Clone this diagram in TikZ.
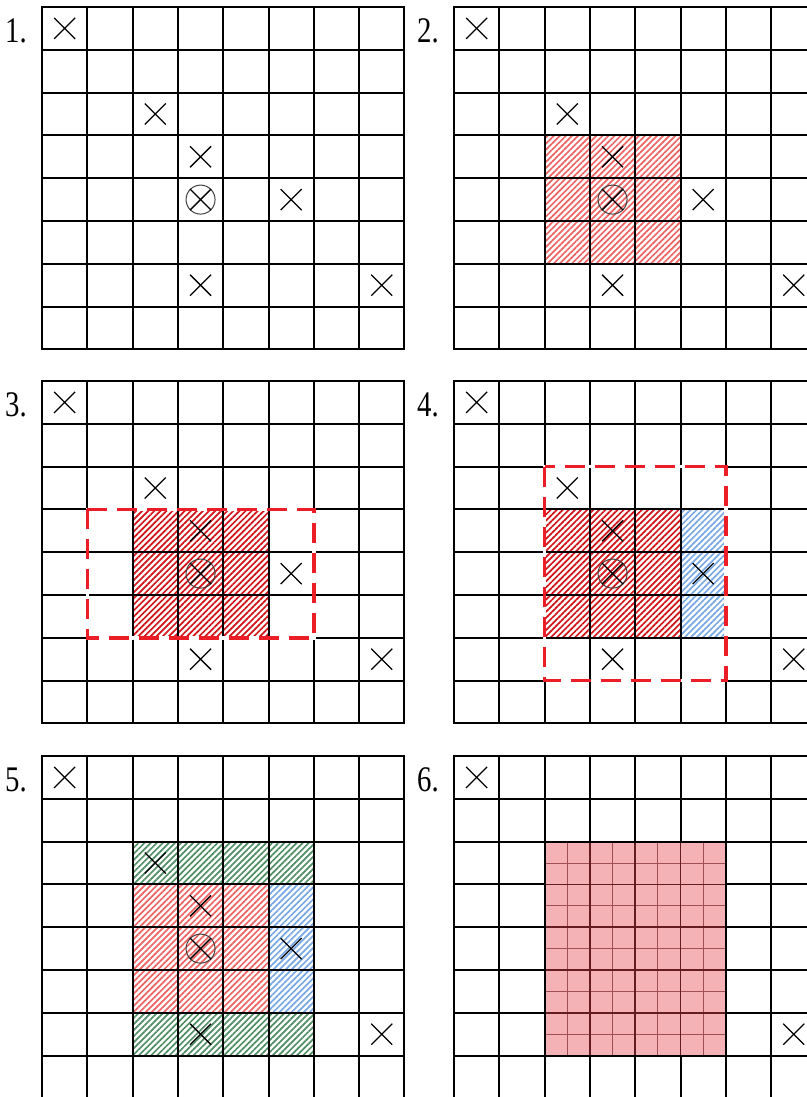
\documentclass[tikz,border=0pt]{standalone}
\usepackage{fontspec}
\setmainfont{Liberation Serif}
\usepackage{xcolor}
\usetikzlibrary{patterns.meta,shapes.misc}

\definecolor{lightred}{RGB}{238,100,100}
\definecolor{darkred}{RGB}{210,20,25}
\definecolor{hatchblue}{RGB}{120,168,228}
\definecolor{hatchgreen}{RGB}{80,142,100}
\definecolor{framered}{RGB}{235,30,40}
\definecolor{cellpink}{RGB}{245,178,182}
\definecolor{subline}{RGB}{160,80,85}
\definecolor{mainline}{RGB}{100,28,32}

\newcommand{\drawgrid}{%
  \foreach \i in {0,...,8} {
    \draw[gridline] (\i,0) -- (\i,8);
    \draw[gridline] (0,\i) -- (8,\i);
  }}
\newcommand{\placecrosses}[1]{%
  \foreach \cx/\cy/\k in {0/0/a,2/2/b,3/3/c,5/4/d,3/6/e,7/6/f}
    \node[hit] (#1-\k) at (\cx+0.5,\cy+0.5) {};
  \node[seed] (#1-o) at (3.5,4.5) {};
  \node[hit] (#1-ox) at (3.5,4.5) {};}

\begin{document}
\begin{tikzpicture}[x=0.5pt,y=-0.5pt,
  gridline/.style={line width=1pt,line cap=rect},
  hit/.style={cross out,draw,line width=0.65pt,minimum size=10.5pt,
              inner sep=0pt,outer sep=0pt},
  seed/.style={circle,draw=black!75,line width=0.5pt,minimum size=14.5pt,
               inner sep=0pt},
  panel/.style={x=22.65pt,y=-21.4pt},
  tag/.style={font=\fontsize{18}{18}\selectfont,xscale=0.8,
              anchor=east,inner sep=0pt},
  hatch/.style={pattern={Lines[angle=45,distance=2.15pt,line width=0.85pt]},
                pattern color=#1},
  frame/.style={draw=framered,line width=1.75pt,dash pattern=on 10pt off 5pt}
]
  \useasboundingbox (0,0) rectangle (807,1097);
  \clip (0,0) rectangle (807,1097);

  % 1. the grid with the hits
  \begin{scope}[shift={(42,7)},panel]
    \drawgrid
    \placecrosses{p1}
    \node[tag] (lbl1) at (-0.33,0.56) {1.};
  \end{scope}

  % 2. first neighbourhood
  \begin{scope}[shift={(454,7)},panel]
    \fill[hatch=lightred] (2,3) rectangle (5,6);
    \drawgrid
    \placecrosses{p2}
    \node[tag] (lbl2) at (-0.33,0.56) {2.};
  \end{scope}

  % 3. search window
  \begin{scope}[shift={(42,381)},panel]
    \fill[hatch=darkred] (2,3) rectangle (5,6);
    \drawgrid
    \draw[white,line width=1.75pt] (1,3) rectangle (6,6);
    \draw[frame] (1,3) rectangle (6,6);
    \placecrosses{p3}
    \node[tag] (lbl3) at (-0.33,0.56) {3.};
  \end{scope}

  % 4. grown to the right
  \begin{scope}[shift={(454,381)},panel]
    \fill[hatch=darkred] (2,3) rectangle (5,6);
    \fill[hatch=hatchblue] (5,3) rectangle (6,6);
    \drawgrid
    \draw[white,line width=1.75pt] (2,2) rectangle (6,7);
    \draw[frame] (2,2) rectangle (6,7);
    \placecrosses{p4}
    \node[tag] (lbl4) at (-0.33,0.56) {4.};
  \end{scope}

  % 5. grown up and down
  \begin{scope}[shift={(42,756)},panel]
    \fill[hatch=hatchgreen] (2,2) rectangle (6,3);
    \fill[hatch=hatchgreen] (2,6) rectangle (6,7);
    \fill[hatch=lightred] (2,3) rectangle (5,6);
    \fill[hatch=hatchblue] (5,3) rectangle (6,6);
    \drawgrid
    \placecrosses{p5}
    \node[tag] (lbl5) at (-0.33,0.56) {5.};
  \end{scope}

  % 6. final cluster, refined
  \begin{scope}[shift={(454,756)},panel]
    \drawgrid
    \fill[cellpink] (2,2) rectangle (6,7);
    \foreach \i in {2.5,3.5,4.5,5.5}
      \draw[subline,line width=0.5pt] (\i,2) -- (\i,7);
    \foreach \j in {2.5,3.5,4.5,5.5,6.5}
      \draw[subline,line width=0.5pt] (2,\j) -- (6,\j);
    \foreach \i in {3,4,5}
      \draw[mainline,line width=0.9pt] (\i,2) -- (\i,7);
    \foreach \j in {3,4,5,6}
      \draw[mainline,line width=0.9pt] (2,\j) -- (6,\j);
    \draw[gridline] (2,2) rectangle (6,7);
    \node[hit] (p6-a) at (0.5,0.5) {};
    \node[hit] (p6-f) at (7.5,6.5) {};
    \node[tag] (lbl6) at (-0.33,0.56) {6.};
  \end{scope}
\end{tikzpicture}
\end{document}
